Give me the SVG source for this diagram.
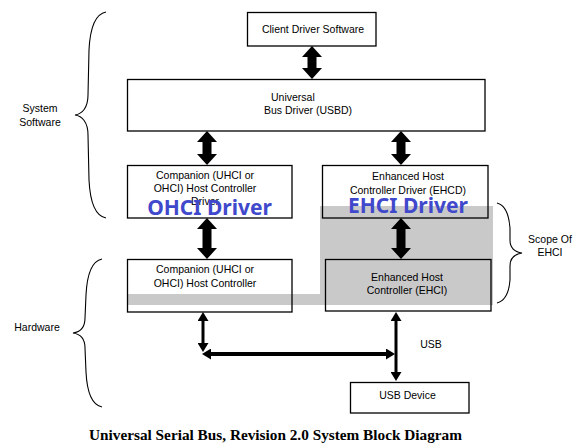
<svg xmlns="http://www.w3.org/2000/svg" width="578" height="448" viewBox="0 0 578 448">
<style>
.box{fill:none;stroke:#000;stroke-width:1.3}
.t{font-family:"Liberation Sans",Arial,sans-serif;font-size:10.5px;fill:#000;text-anchor:middle}
.blue{font-family:"Noto Sans","Open Sans",sans-serif;font-weight:bold;font-size:21px;fill:#4048cc;text-anchor:middle}
.fat{fill:#000}
.thin{stroke:#000;stroke-width:3;fill:none;marker-start:url(#ah);marker-end:url(#ah)}
.brace{fill:none;stroke:#000;stroke-width:1.1}
.cap{font-family:"Liberation Serif","Times New Roman",serif;font-weight:bold;font-size:14px;fill:#000;text-anchor:middle}
</style>
<defs>
<marker id="ah" markerUnits="userSpaceOnUse" markerWidth="9" markerHeight="11" viewBox="0 0 9 11" refX="4" refY="5.5" orient="auto-start-reverse">
<path d="M0,0 L9,5.5 L0,11 z" fill="#000"/>
</marker>
</defs>
<rect width="578" height="448" fill="#fff"/>

<g id="ehci-scope-shade">
<polygon points="320,206 493,206 493,305 127,305 127,294 320,294" fill="#c9c9c9"/>
</g>

<g id="braces">
<path class="brace" d="M106,12 C95,14 90,30 89,50 L88,95 C88,108 82,114 75,115 C82,116 88,122 88,135 L89,180 C90,200 95,216 106,218"/>
<path class="brace" d="M102,259 C92,261 87,275 86,295 L85,318 C85,328 80,332 73,333 C80,334 85,338 85,348 L86,372 C87,392 92,405 102,407"/>
<path class="brace" d="M497,203 C505,205 509,215 510,228 L510,240 C510,248 515,252 522,253 C515,254 510,258 510,266 L510,280 C509,293 505,301 497,303"/>
</g>

<g id="label-system-software">
<text class="t" x="40" y="112">System</text>
<text class="t" x="40" y="126">Software</text>
</g>
<g id="label-hardware">
<text class="t" x="37" y="331">Hardware</text>
</g>
<g id="label-scope">
<text class="t" x="550" y="243">Scope Of</text>
<text class="t" x="550" y="256">EHCI</text>
</g>

<g id="client-driver">
<rect class="box" x="247.5" y="12.5" width="128.5" height="33.5"/>
<text class="t" x="313" y="33">Client Driver Software</text>
</g>

<g id="usbd">
<rect class="box" x="127.5" y="79.5" width="357.5" height="51.5"/>
<text class="t" x="271" y="101" text-anchor="start" style="text-anchor:start">Universal</text>
<text class="t" x="264" y="114" style="text-anchor:start">Bus Driver (USBD)</text>
</g>

<g id="companion-driver">
<rect class="box" x="127.5" y="165.5" width="164.5" height="52.5"/>
<text class="t" x="205" y="179">Companion (UHCI or</text>
<text class="t" x="205" y="192">OHCI) Host Controller</text>
<text class="t" x="205" y="205">Driver</text>
<text class="blue" x="209.5" y="215">OHCI Driver</text>
</g>

<g id="ehcd">
<rect class="box" x="322.5" y="165.5" width="165.5" height="52.5"/>
<text class="t" x="408" y="180">Enhanced Host</text>
<text class="t" x="408" y="194">Controller Driver (EHCD)</text>
<text class="blue" x="408" y="213">EHCI Driver</text>
</g>

<g id="companion-hc">
<rect class="box" x="127.5" y="259.5" width="164.5" height="52.5"/>
<text class="t" x="205" y="273">Companion (UHCI or</text>
<text class="t" x="205" y="286.5">OHCI) Host Controller</text>
</g>

<g id="ehci-hc">
<rect class="box" x="325.5" y="259.5" width="165.5" height="51.5"/>
<text class="t" x="407" y="280.5">Enhanced Host</text>
<text class="t" x="407" y="293.5">Controller (EHCI)</text>
</g>

<g id="usb-device">
<rect class="box" x="350.5" y="382.5" width="118.5" height="30.5"/>
<text class="t" x="407.5" y="399">USB Device</text>
</g>

<g id="connectors">
<polygon class="fat" points="312,46 322,57 316.5,57 316.5,68 322,68 312,79 302,68 307.5,68 307.5,57 302,57"/>
<polygon class="fat" points="207,131 217,142 211.5,142 211.5,154 217,154 207,165 197,154 202.5,154 202.5,142 197,142"/>
<polygon class="fat" points="401,131 411,142 405.5,142 405.5,154 411,154 401,165 391,154 396.5,154 396.5,142 391,142"/>
<polygon class="fat" points="207,218 217,229 211.5,229 211.5,248 217,248 207,259 197,248 202.5,248 202.5,229 197,229"/>
<polygon class="fat" points="401,218 411,229 405.5,229 405.5,248 411,248 401,259 391,248 396.5,248 396.5,229 391,229"/>
<line class="thin" x1="203" y1="317" x2="203" y2="347"/>
<line class="thin" x1="207" y1="354" x2="390" y2="354" style="stroke-width:4"/>
<line class="thin" x1="396" y1="317" x2="396" y2="376"/>
<text class="t" x="431" y="348">USB</text>
</g>

<g id="caption">
<text class="cap" x="275.5" y="440" textLength="373" lengthAdjust="spacingAndGlyphs">Universal Serial Bus, Revision 2.0 System Block Diagram</text>
</g>
</svg>
